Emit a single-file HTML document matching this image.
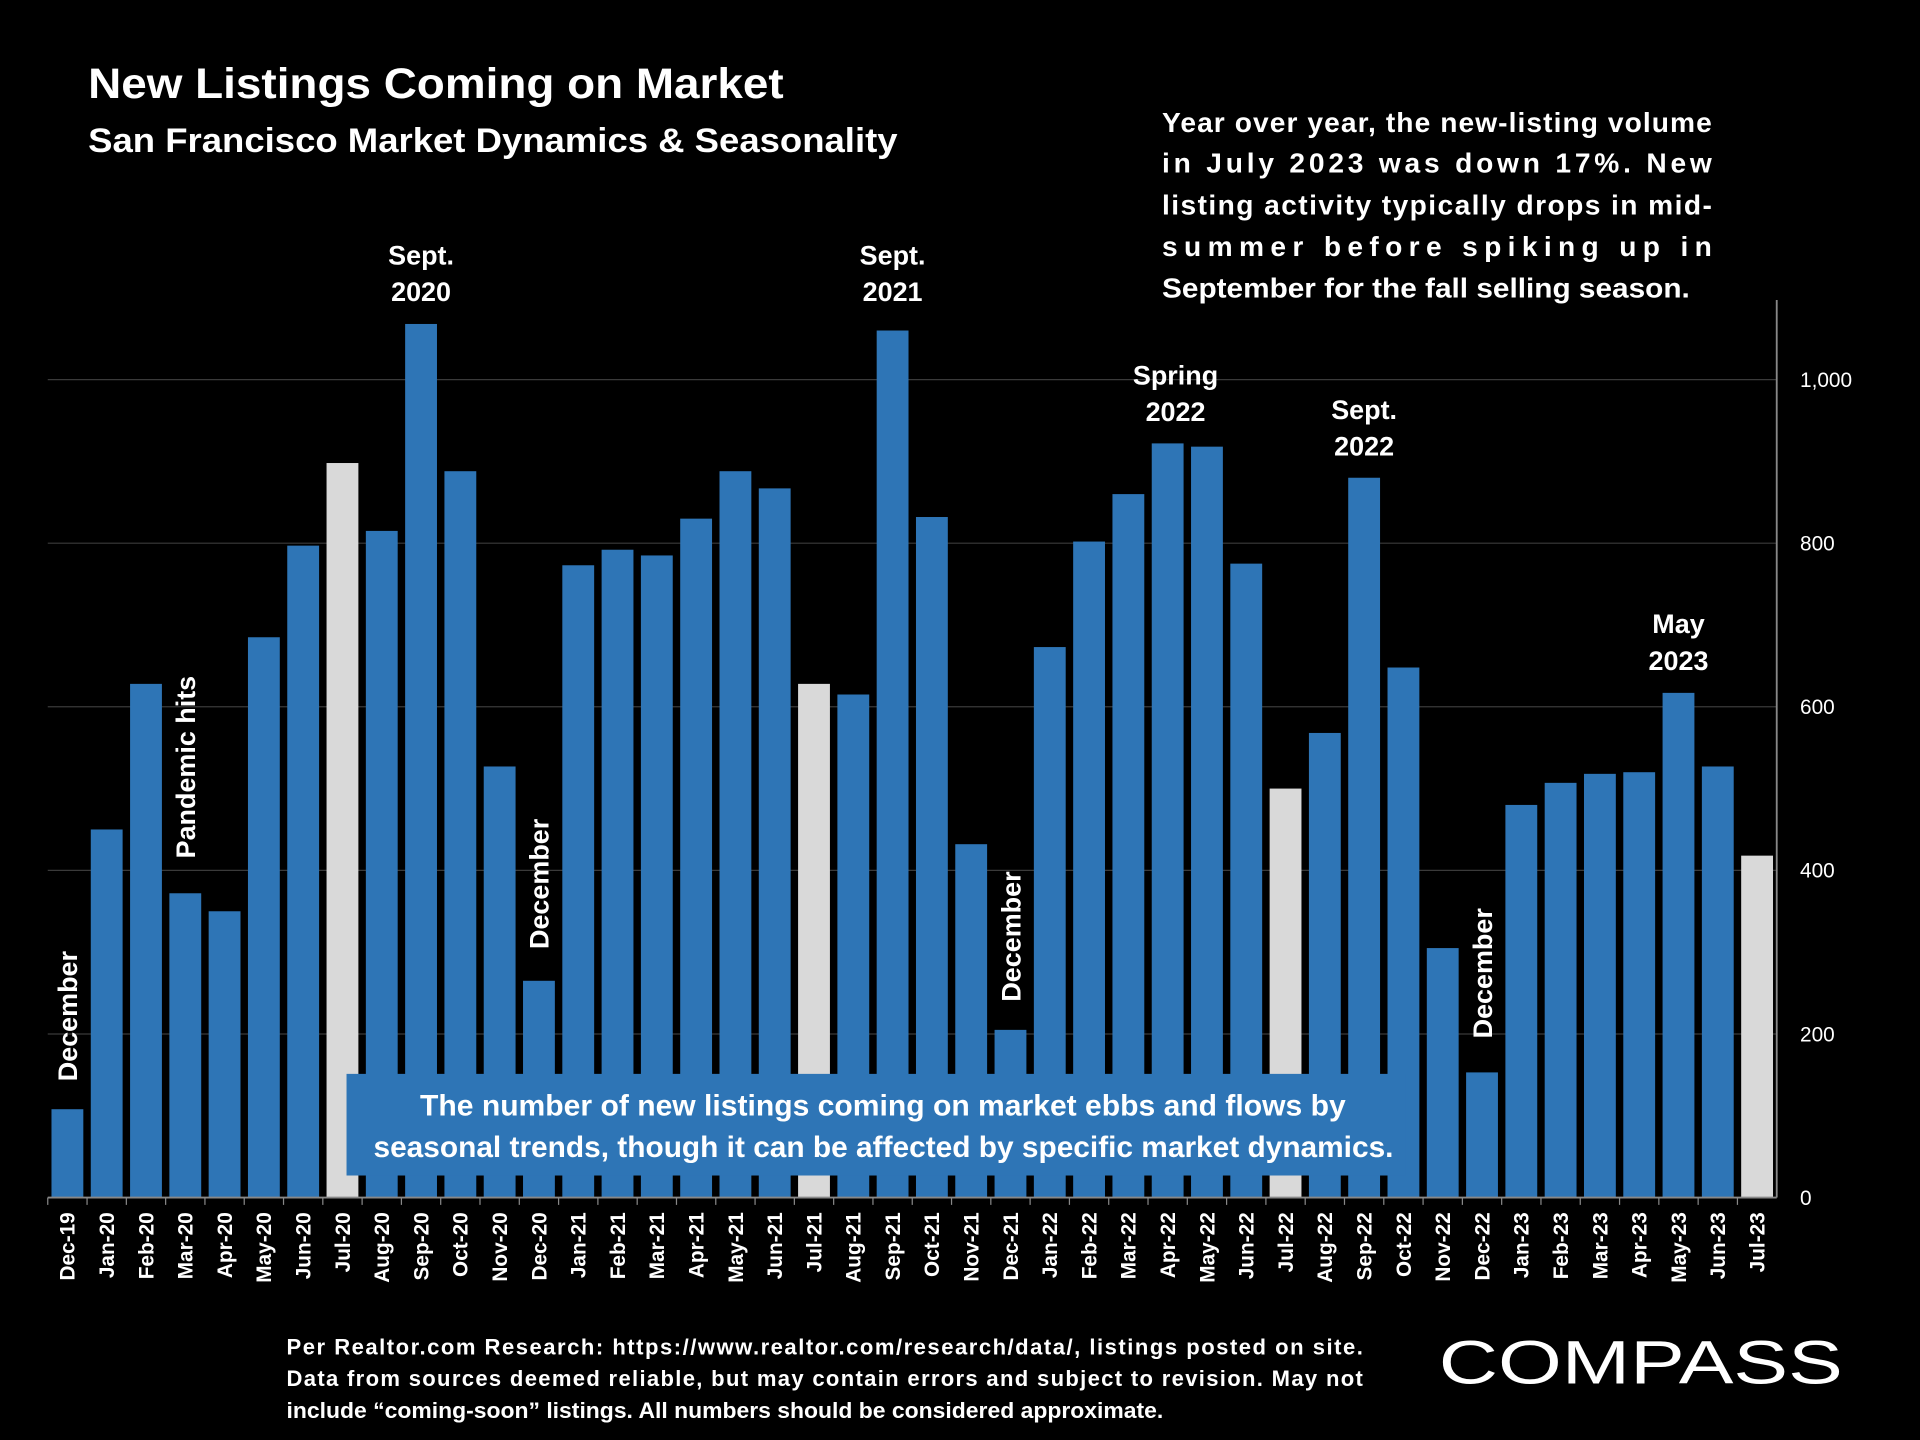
<!DOCTYPE html>
<html><head><meta charset="utf-8"><style>
html,body{margin:0;padding:0;background:#000;}
svg{display:block;font-family:"Liberation Sans",Arial,sans-serif;}
</style></head><body>
<svg id="chart" width="1920" height="1440" viewBox="0 0 1568 1176" xmlns="http://www.w3.org/2000/svg">
<rect width="1568" height="1176" fill="#000"/>
<text x="72" y="80" fill="#fff" font-size="35" font-weight="bold" textLength="568" lengthAdjust="spacingAndGlyphs">New Listings Coming on Market</text>
<text x="72" y="124" fill="#fff" font-size="28" font-weight="bold" textLength="661" lengthAdjust="spacingAndGlyphs">San Francisco Market Dynamics &amp; Seasonality</text>
<g fill="#fff" font-size="23" font-weight="bold">
<text x="949" y="108" textLength="449" lengthAdjust="spacing">Year over year, the new-listing volume</text>
<text x="949" y="141" textLength="449" lengthAdjust="spacing">in July 2023 was down 17%. New</text>
<text x="949" y="175" textLength="449" lengthAdjust="spacing">listing activity typically drops in mid-</text>
<text x="949" y="209" textLength="449" lengthAdjust="spacing">summer before spiking up in</text>
<text x="949" y="243" textLength="431" lengthAdjust="spacingAndGlyphs">September for the fall selling season.</text>
</g>
<g id="grid"></g>
<g id="bars"></g>
<g id="axes"></g>
<g id="xlabels"></g>
<g id="annotations" fill="#fff" font-weight="bold" font-size="22"></g>
<rect x="283" y="877" width="865" height="83" fill="#2E75B6"/>
<g fill="#fff" font-size="24" font-weight="bold">
<text x="343" y="911" textLength="756" lengthAdjust="spacingAndGlyphs">The number of new listings coming on market ebbs and flows by</text>
<text x="305" y="945" textLength="833" lengthAdjust="spacingAndGlyphs">seasonal trends, though it can be affected by specific market dynamics.</text>
</g>
<g fill="#fff" font-size="18" font-weight="bold">
<text x="234" y="1106" textLength="879" lengthAdjust="spacing">Per Realtor.com Research: https://www.realtor.com/research/data/, listings posted on site.</text>
<text x="234" y="1132" textLength="879" lengthAdjust="spacing">Data from sources deemed reliable, but may contain errors and subject to revision. May not</text>
<text x="234" y="1158" textLength="716" lengthAdjust="spacingAndGlyphs">include “coming-soon” listings. All numbers should be considered approximate.</text>
</g>
<text x="1175" y="1130" fill="#fff" font-size="50" textLength="330" lengthAdjust="spacingAndGlyphs">COMPASS</text>
<script>
const categories=["Dec-19","Jan-20","Feb-20","Mar-20","Apr-20","May-20","Jun-20","Jul-20","Aug-20","Sep-20","Oct-20","Nov-20","Dec-20","Jan-21","Feb-21","Mar-21","Apr-21","May-21","Jun-21","Jul-21","Aug-21","Sep-21","Oct-21","Nov-21","Dec-21","Jan-22","Feb-22","Mar-22","Apr-22","May-22","Jun-22","Jul-22","Aug-22","Sep-22","Oct-22","Nov-22","Dec-22","Jan-23","Feb-23","Mar-23","Apr-23","May-23","Jun-23","Jul-23"];
const values=[108,450,628,372,350,685,797,898,815,1068,888,527,265,773,792,785,830,888,867,628,615,1060,832,432,205,673,802,860,922,918,775,500,568,880,648,305,153,480,507,518,520,617,527,418];
const highlightMonths=["Jul-20","Jul-21","Jul-22","Jul-23"];
const yTicks=[0,200,400,600,800,1000];
const yTickLabels=["0","200","400","600","800","1,000"];
const NS="http://www.w3.org/2000/svg";
const left=39,right=1451,y0=978,yMax=1000,yTop=310;
const n=categories.length,step=(right-left)/n,bw=26;
function y(v){return y0-(v/yMax)*(y0-yTop);}
function xc(i){return left+step*(i+0.5);}
function mk(tag,attrs,parent){const e=document.createElementNS(NS,tag);for(const k in attrs)e.setAttribute(k,attrs[k]);parent.appendChild(e);return e;}
const grid=document.getElementById('grid'),bars=document.getElementById('bars'),axes=document.getElementById('axes'),xl=document.getElementById('xlabels'),ann=document.getElementById('annotations');
yTicks.forEach((t,i)=>{
  if(t>0){const g=mk('line',{x1:left,x2:right,y1:y(t),y2:y(t),stroke:'#3a3a3a','stroke-width':1},grid);
  
  }
  const tl=mk('text',{x:1470,y:y(t)+6,fill:'#fff','font-size':17},axes);
  tl.textContent=yTickLabels[i];
  
  
});
categories.forEach((c,i)=>{
  const r=mk('rect',{x:xc(i)-bw/2,y:y(values[i]),width:bw,height:y0-y(values[i]),fill:highlightMonths.includes(c)?'#D9D9D9':'#2E75B6'},bars);
  
  
  const t=mk('text',{transform:`translate(${xc(i)+6},990) rotate(-90)`,'text-anchor':'end',fill:'#fff','font-size':17,'font-weight':'bold'},xl);
  t.textContent=c;
  
  
  mk('line',{x1:xc(i)-step/2,x2:xc(i)-step/2,y1:y0,y2:y0+6,stroke:'#888'},axes);
});
const ax=mk('line',{x1:left,x2:right,y1:y0,y2:y0,stroke:'#888','stroke-width':1.5},axes);


const ay=mk('line',{x1:right,x2:right,y1:245,y2:y0,stroke:'#888','stroke-width':1.5},axes);


function label(lines,idx,top){lines.forEach((l,k)=>{const t=mk('text',{x:xc(idx),y:top+k*30,'text-anchor':'middle'},ann);t.textContent=l;

});}
function vlabel(txt,idx,bottom){const t=mk('text',{transform:`translate(${xc(idx)+8},${bottom}) rotate(-90)`},ann);t.textContent=txt;

}
label(["Sept.","2020"],9,216);
label(["Sept.","2021"],21,216);
label(["Spring","2022"],28.2,314);
label(["Sept.","2022"],33,342);
label(["May","2023"],41,517);
vlabel("December",0,883);
vlabel("Pandemic hits",3,701);
vlabel("December",12,775);
vlabel("December",24,818);
vlabel("December",36,848);
</script>
</svg>
</body></html>
